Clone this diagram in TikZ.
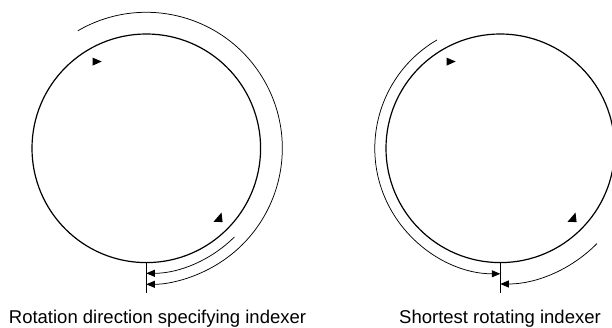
\documentclass[tikz,border=0pt]{standalone}
\usepackage{fontspec}
\setmainfont{Liberation Sans}
\usetikzlibrary{calc,arrows.meta}
\begin{document}
\begin{tikzpicture}[x=1bp,y=1bp,
  wheel/.style={circle,draw,line width=1.2bp,minimum size=228.6bp,inner sep=0pt},
  travel/.style={line width=0.75bp,-{Triangle[length=8.5bp,width=7bp]}},
  tick/.style={line width=0.9bp},
  marker/.style={fill=black,draw=none},
  caption/.style={font=\fontsize{18.5bp}{22bp}\selectfont,anchor=base,inner sep=0pt}]
\useasboundingbox (0,0) rectangle (612,327);
\clip (0,0) rectangle (612,327);
% left: rotation direction specifying
\node[wheel] (cL) at (146.3,178.7) {};
\coordinate (tL) at ($(cL.south)+(0,-29.5)$);
\draw[tick] (cL.south) -- (tL);
\coordinate (oL) at ($(cL.center)+(120.3:136bp)$);
\coordinate (iL) at ($(cL.center)+(-45.2:125bp)$);
\draw[travel] (oL) arc[start angle=120.3,end angle=-90,radius=136bp];
\draw[travel] (iL) arc[start angle=-45.2,end angle=-90,radius=125bp];
\fill[marker] ($(cL.center)+(-53.6,90.6)$) -- ($(cL.center)+(-53.8,82.6)$) -- ($(cL.center)+(-44.6,86.8)$) -- cycle;
\fill[marker] ($(cL.center)+(75.2,-64.2)$) -- ($(cL.center)+(67.2,-73.5)$) -- ($(cL.center)+(76.3,-73.8)$) -- cycle;
\node[caption] (capL) at (157.5,3.7) {Rotation direction specifying indexer};
% right: shortest rotating
\node[wheel] (cR) at (500.3,178.7) {};
\coordinate (tR) at ($(cR.south)+(0,-29.5)$);
\draw[tick] (cR.south) -- (tR);
\coordinate (oR) at ($(cR.center)+(120.3:125.5bp)$);
\coordinate (iR) at ($(cR.center)+(-44.7:135.7bp)$);
\draw[travel] (oR) arc[start angle=120.3,end angle=270,radius=125.5bp];
\draw[travel] (iR) arc[start angle=-44.7,end angle=-90,radius=135.7bp];
\fill[marker] ($(cR.center)+(-53.6,90.6)$) -- ($(cR.center)+(-53.8,82.6)$) -- ($(cR.center)+(-44.6,86.8)$) -- cycle;
\fill[marker] ($(cR.center)+(75.2,-64.2)$) -- ($(cR.center)+(67.2,-73.5)$) -- ($(cR.center)+(76.3,-73.8)$) -- cycle;
\node[caption] (capR) at (500,3.7) {Shortest rotating indexer};
\end{tikzpicture}
\end{document}
